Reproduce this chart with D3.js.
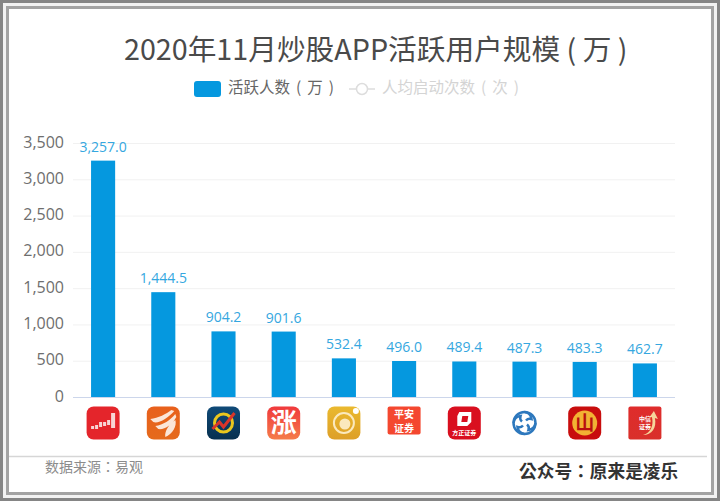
<!DOCTYPE html>
<html>
<head>
<meta charset="utf-8">
<script src="https://cdnjs.cloudflare.com/ajax/libs/d3/7.8.5/d3.min.js"></script>
<style>
  html, body { margin: 0; padding: 0; background: #fff; }
  text { font-family: "Noto Sans CJK SC", "Open Sans", sans-serif; }
</style>
</head>
<body>
<div id="GraphHolder"></div>
<script>
// values
var apps = ["app1", "app2", "app3", "app4", "app5", "app6", "app7", "app8", "app9", "app10"];
var users = [3257.0, 1444.5, 904.2, 901.6, 532.4, 496.0, 489.4, 487.3, 483.3, 462.7];
var yTicks = [0, 500, 1000, 1500, 2000, 2500, 3000, 3500];
var iconColors = ["#e4252b", "#e8601c", "#0f4a78", "#f0393c", "#eab92e", "#f4472f", "#d90f1f", "#ffffff", "#c80d0d", "#df2c2c"];
var iconEnds = ["#e4252b", "#e56a1c", "#07304f", "#f57c4a", "#dd9f28", "#f4472f", "#d90f1f", "#ffffff", "#c80d0d", "#d9302a"];

var titleText = "2020年11月炒股APP活跃用户规模 ( 万 )";
var legendOn = "活跃人数 ( 万 )";
var legendOff = "人均启动次数 ( 次 )";
var sourceText = "数据来源：易观";
var accountText = "公众号：原来是凌乐";

var width = 720, height = 501;
var margin = {top: 143, left: 73, right: 45, bottom: 104};
var innerW = width - margin.left - margin.right;
var innerH = height - margin.top - margin.bottom;

var svg = d3.select("#GraphHolder").append("svg")
    .attr("width", width)
    .attr("height", height)
    .style("display", "block");

// frame: dark band, light gap, mid band
svg.append("rect").attr("x", 0).attr("y", 0).attr("width", width).attr("height", height).attr("fill", "#858585");
svg.append("rect").attr("x", 3).attr("y", 3).attr("width", width - 6).attr("height", height - 6).attr("fill", "#f2f2f2");
svg.append("rect").attr("x", 6).attr("y", 6).attr("width", width - 12).attr("height", height - 12).attr("fill", "#a3a3a3");
svg.append("rect").attr("x", 9).attr("y", 9).attr("width", width - 18).attr("height", height - 18).attr("fill", "#fff");

svg.append("text")
    .attr("x", 124).attr("y", 60)
    .attr("font-size", 28.7)
    .attr("fill", "#4a4a4a")
    .text(titleText);

// legend
var legend = svg.append("g");
legend.append("rect").attr("x", 194).attr("y", 81).attr("width", 27).attr("height", 16).attr("rx", 3).attr("fill", "#0598df");
legend.append("text").attr("x", 228).attr("y", 93).attr("font-size", 15.5).attr("fill", "#666").style("word-spacing", "2.5px").text(legendOn);
legend.append("line").attr("x1", 349).attr("x2", 375).attr("y1", 89).attr("y2", 89).attr("stroke", "#ddd").attr("stroke-width", 1.5);
legend.append("circle").attr("cx", 362).attr("cy", 89).attr("r", 5.5).attr("fill", "#fff").attr("stroke", "#ddd").attr("stroke-width", 1.5);
legend.append("text").attr("x", 382).attr("y", 93).attr("font-size", 15.5).attr("fill", "#d4d4d4").style("word-spacing", "2.5px").text(legendOff);

var g = svg.append("g").attr("transform", "translate(" + margin.left + "," + margin.top + ")");

var x = d3.scaleBand().domain(apps).range([0, innerW]).paddingInner(0.6).paddingOuter(0.3);
var y = d3.scaleLinear().domain([0, 3500]).range([innerH, 0]);

// gridlines
g.selectAll(".grid").data(yTicks.slice(1)).enter().append("line")
    .attr("class", "grid")
    .attr("x1", 0).attr("x2", innerW)
    .attr("y1", function(d) { return y(d) + 0.5; })
    .attr("y2", function(d) { return y(d) + 0.5; })
    .attr("stroke", "#f1f1f1");

var yAxis = d3.axisLeft(y).tickValues(yTicks).tickSize(0).tickPadding(9).tickFormat(d3.format(","));
var yg = g.append("g").call(yAxis);
yg.select(".domain").remove();
yg.selectAll("text").attr("font-size", 16).attr("fill", "#6e6e6e").attr("y", -1).style("font-family", "'Open Sans', sans-serif");

g.selectAll(".bar").data(users).enter().append("rect")
    .attr("class", "bar")
    .attr("x", function(d, i) { return x(apps[i]); })
    .attr("width", x.bandwidth())
    .attr("y", function(d) { return y(d); })
    .attr("height", function(d) { return innerH - y(d); })
    .attr("fill", "#0598df");

g.selectAll(".val").data(users).enter().append("text")
    .attr("class", "val")
    .attr("x", function(d, i) { return x(apps[i]) + x.bandwidth() / 2; })
    .attr("y", function(d) { return y(d) - 9; })
    .attr("text-anchor", "middle")
    .attr("font-size", 14)
    .attr("fill", "#35a7e0")
    .style("font-family", "'Open Sans', sans-serif")
    .text(function(d) { return d3.format(",.1f")(d); });

// baseline
g.append("line").attr("x1", 0).attr("x2", innerW).attr("y1", innerH + 0.5).attr("y2", innerH + 0.5).attr("stroke", "#ccd6eb");

// app icons below the axis
var defs = svg.append("defs");
apps.forEach(function(a, i) {
    var grad = defs.append("linearGradient").attr("id", "ic" + i).attr("x1", 0).attr("x2", 0).attr("y1", 0).attr("y2", 1);
    grad.append("stop").attr("offset", 0).attr("stop-color", iconColors[i]);
    grad.append("stop").attr("offset", 1).attr("stop-color", iconEnds[i]);
});
var icon = g.selectAll(".icon").data(apps).enter().append("g")
    .attr("class", "icon")
    .attr("transform", function(d) {
        return "translate(" + (x(d) + x.bandwidth() / 2) + "," + (innerH + 26) + ")";
    });
icon.append("rect")
    .attr("x", -16.5).attr("y", -16.5).attr("width", 33)
    .attr("height", function(d, i) { return i === 5 ? 28 : 33; })
    .attr("rx", function(d, i) { return i === 5 || i === 9 ? 2 : 7; })
    .attr("fill", function(d, i) { return "url(#ic" + i + ")"; });

function iconG(i) { return d3.select(icon.nodes()[i]); }
function iconLabel(i, str, yy, size, col) {
    iconG(i).append("text").attr("x", 0).attr("y", yy).attr("text-anchor", "middle")
        .attr("font-size", size).attr("font-weight", 700).attr("fill", col || "#fff").text(str);
}

// 1: row of small candles, rising to the right
iconG(0).append("path").attr("d", "M-12,3h3v3h-3zM-8,2h3v4h-3zM-4,-1h3v5h-3zM0,-1h3v4h-3zM4,-3h3v5h-3zM8,-10h4v15h-4z").attr("fill", "#f8d5d5");
// 2: fan
iconG(1).append("path").attr("d", "M-13,-4C-5,-5 3,-9 8,-13L11,-12C5,-5 -5,1 -10,-1Z M-8,3C0,2 7,-3 12,-9L13,-6C9,2 1,7 -5,6Z M2,14C1,8 6,1 12,-3C14,3 9,11 2,14Z").attr("fill", "#fbe6d8");
// 3: ring and red arrow
iconG(2).append("circle").attr("r", 9).attr("fill", "none").attr("stroke", "#e9c61d").attr("stroke-width", 3);
iconG(2).append("path").attr("d", "M-11,6L-4,-1L0,4L11,-10").attr("fill", "none").attr("stroke", "#d8352a").attr("stroke-width", 3);
// 4: character
iconLabel(3, "涨", 9, 26);
// 5: circle ring with dot
iconG(4).append("circle").attr("r", 10).attr("fill", "none").attr("stroke", "#fbe9bd").attr("stroke-width", 2);
iconG(4).append("circle").attr("cx", 1).attr("cy", 1).attr("r", 5.5).attr("fill", "#fbe9bd");
iconG(4).append("circle").attr("cx", 12).attr("cy", -12).attr("r", 3).attr("fill", "#fff");
// 6: ping an text
iconLabel(5, "平安", -5, 10);
iconLabel(5, "证券", 9, 10);
// 7: founder securities
iconG(6).append("path").attr("d", "M-5,-11H7V-1L3,3H-7V-7Z M-2,-7L-3,-1H3L4,-7Z").attr("fill", "#fff").attr("fill-rule", "evenodd");
iconLabel(6, "方正证券", 12, 6);
// 8: blue swirl, ring with four curved arms
iconG(7).append("circle").attr("r", 11).attr("fill", "none").attr("stroke", "#2d78bd").attr("stroke-width", 2.5);
[0, 90, 180, 270].forEach(function(a) {
    iconG(7).append("path")
        .attr("d", "M0,-11A8,8 0 0 1 7,-4A5,5 0 0 0 1.5,-2.5")
        .attr("transform", "rotate(" + a + ")")
        .attr("fill", "none")
        .attr("stroke", "#2d78bd")
        .attr("stroke-width", 2.5);
});
// 9: yellow coin
iconG(8).append("circle").attr("r", 12.5).attr("fill", "#f2b233");
iconLabel(8, "山", 7, 19, "#b8100f");
// 10: label and arrow
iconG(9).append("path").attr("d", "M-2,12C6,10 9,2 7,-6L4,-5L9,-12L13,-4L10,-5C12,5 7,12 -2,12Z").attr("fill", "#f6d59a");
iconLabel(9, "中信", -2, 6);
iconLabel(9, "证券", 6, 6);

// footer
svg.append("line").attr("x1", 9).attr("x2", 707).attr("y1", 456.5).attr("y2", 456.5).attr("stroke", "#d6d6d6").attr("stroke-width", 1.5);
svg.append("text").attr("x", 45).attr("y", 472).attr("font-size", 14).attr("fill", "#8c8c8c").style("font-family", "'Noto Sans CJK TC'").text(sourceText);
svg.append("text").attr("x", 519).attr("y", 478).attr("font-size", 17.7).attr("font-weight", 700).attr("fill", "#333").style("font-family", "'Noto Sans CJK TC'").text(accountText);
</script>
</body>
</html>
